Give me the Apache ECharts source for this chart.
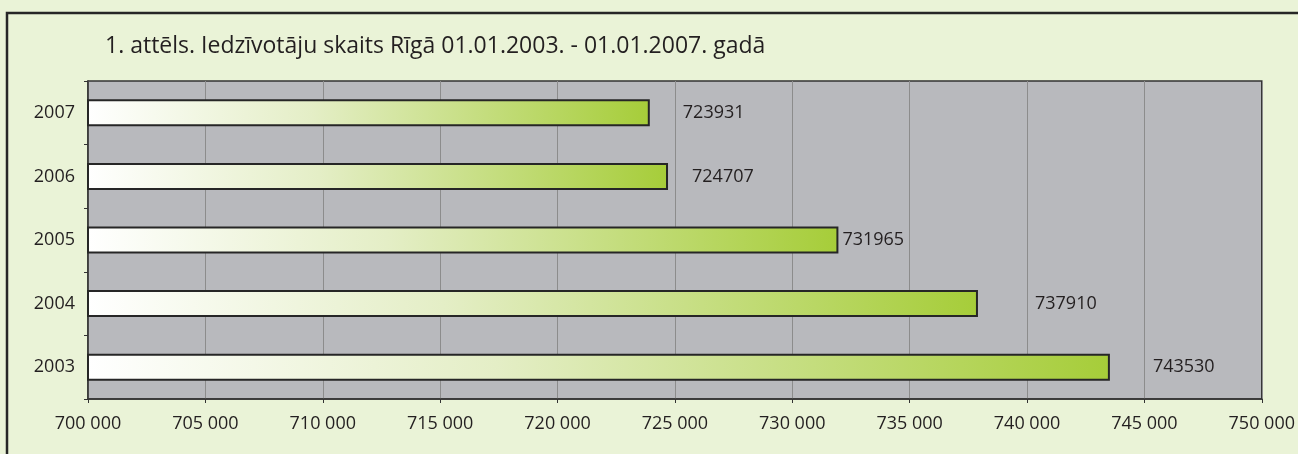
<!DOCTYPE html>
<html>
<head>
<meta charset="utf-8">
<script src="https://cdn.jsdelivr.net/npm/echarts@6/dist/echarts.min.js"></script>
<style>
html, body { margin: 0; padding: 0; background: #eaf3d7; }
#chart { width: 1298px; height: 454px; }
</style>
</head>
<body>
<div id="chart"></div>
<script>
// dati
const years = ['2003', '2004', '2005', '2006', '2007'];
const residents = [743530, 737910, 731965, 724707, 723931];
const xTicks = [700000, 750000, 5000]; // min, max, solis

// attālums no stabiņa līdz vērtībai (kā oriģinālā)
const labelGap = [43, 57, 4, 24, 33];

const chart = echarts.init(document.getElementById('chart'));

function spaced(n) {
    return String(n).replace(/\B(?=(\d{3})+(?!\d))/g, ' ');
}

const option = {
    backgroundColor: '#eaf3d7',
    animation: false,
    textStyle: { fontFamily: 'Open Sans' },
    title: {
        text: '1. attēls. Iedzīvotāju skaits Rīgā 01.01.2003. - 01.01.2007. gadā',
        left: 100,
        top: 30,
        textStyle: {
            fontFamily: 'Open Sans',
            fontSize: 23,
            fontWeight: 'normal',
            color: '#231f20'
        }
    },
    graphic: [
        {
            // rāmis
            type: 'rect',
            silent: true,
            shape: { x: 7, y: 13, width: 1400, height: 600 },
            style: { fill: 'none', stroke: '#262626', lineWidth: 2.5 }
        }
    ],
    grid: {
        left: 88,
        right: 36,
        top: 81,
        bottom: 55,
        show: true,
        backgroundColor: '#b8b9bd',
        borderColor: '#333',
        borderWidth: 1.5
    },
    xAxis: {
        type: 'value',
        min: xTicks[0],
        max: xTicks[1],
        interval: xTicks[2],
        axisLine: { show: true, lineStyle: { color: '#333', width: 1.5 } },
        axisTick: { show: true, length: 4, lineStyle: { color: '#333' } },
        splitLine: { show: true, lineStyle: { color: '#8c8c8c', width: 1 } },
        axisLabel: {
            margin: 16,
            color: '#231f20',
            fontSize: 18,
            fontFamily: 'Open Sans',
            formatter: function (v) { return spaced(v); }
        }
    },
    yAxis: {
        type: 'category',
        data: years,
        axisLine: { show: true, lineStyle: { color: '#333', width: 1.5 } },
        axisTick: { show: true, length: 4, lineStyle: { color: '#333' } },
        axisLabel: {
            margin: 13,
            color: '#231f20',
            fontSize: 18,
            fontFamily: 'Open Sans'
        }
    },
    series: [
        {
            type: 'bar',
            barWidth: 27,
            data: residents.map(function (v, i) {
                return { value: v, label: { distance: labelGap[i] } };
            }),
            itemStyle: {
                borderColor: '#262626',
                borderWidth: 2,
                color: new echarts.graphic.LinearGradient(0, 0, 1, 0, [
                    { offset: 0, color: '#ffffff' },
                    { offset: 0.4, color: '#e4eec6' },
                    { offset: 1, color: '#a6cd39' }
                ])
            },
            label: {
                show: true,
                position: 'right',
                color: '#231f20',
                fontSize: 18,
                fontFamily: 'Open Sans',
                formatter: function (p) { return String(p.value); }
            }
        }
    ]
};

chart.setOption(option);
</script>
</body>
</html>
